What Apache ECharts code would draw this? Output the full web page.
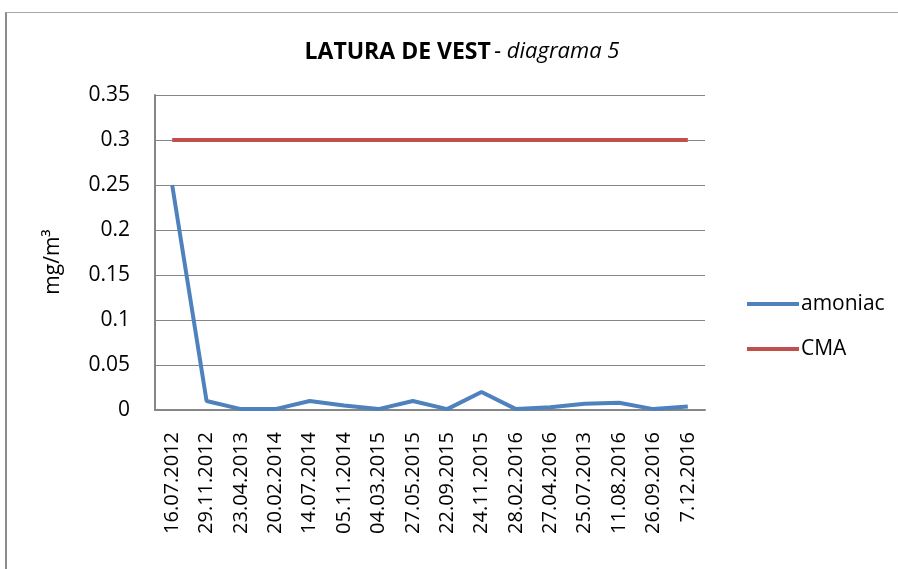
<!DOCTYPE html>
<html><head><meta charset="utf-8">
<script src="https://cdn.jsdelivr.net/npm/echarts@6/dist/echarts.min.js"></script>
<style>html,body{margin:0;padding:0;background:#fff}#c{width:898px;height:569px}</style>
</head><body><div id="c"></div>
<script>
const categories = ["16.07.2012","29.11.2012","23.04.2013","20.02.2014","14.07.2014","05.11.2014","04.03.2015","27.05.2015","22.09.2015","24.11.2015","28.02.2016","27.04.2016","25.07.2013","11.08.2016","26.09.2016","7.12.2016"];
const amoniac = [0.25,0.01,0.001,0.001,0.01,0.005,0.001,0.01,0.001,0.02,0.001,0.003,0.007,0.008,0.001,0.004];
const cma = [0.3,0.3,0.3,0.3,0.3,0.3,0.3,0.3,0.3,0.3,0.3,0.3,0.3,0.3,0.3,0.3];
const yTicks = [0,0.05,0.1,0.15,0.2,0.25,0.3,0.35];
const font = "'Open Sans','Liberation Sans',sans-serif";
const chart = echarts.init(document.getElementById('c'));
chart.setOption({
  animation:false,
  backgroundColor:'#fff',
  graphic:[
    {type:'line',shape:{x1:6,y1:12,x2:6,y2:569},style:{stroke:'#8c8c8c',lineWidth:2}},
    {type:'line',shape:{x1:6,y1:12.5,x2:898,y2:12.5},style:{stroke:'#a6a6a6',lineWidth:1}},
    {type:'text',x:462,y:52,style:{align:'center',verticalAlign:'middle',rich:{b:{fontFamily:font,fontWeight:'bold',fontSize:23,fill:'#000'},i:{fontFamily:font,fontStyle:'italic',fontSize:22,fill:'#000'}},text:'{b|LATURA DE VEST} {i|- diagrama 5}'}},
    {type:'text',x:53,y:262,rotation:Math.PI/2,style:{align:'center',verticalAlign:'middle',fontFamily:font,fontSize:21,fill:'#000',text:'mg/m³'}}
  ],
  grid:{left:155,right:193,top:95,bottom:159},
  legend:{orient:'vertical',left:742,top:287,itemWidth:52,itemHeight:4,itemGap:21,icon:'rect',
    textStyle:{fontFamily:font,fontSize:21,lineHeight:24,color:'#000',padding:[0,0,0,-3]},
    data:['amoniac','CMA']},
  xAxis:{type:'category',data:categories,boundaryGap:true,
    axisLine:{lineStyle:{color:'#868686',width:2}},axisTick:{show:false},
    axisLabel:{rotate:90,interval:0,fontFamily:font,fontSize:20,color:'#000',margin:22}},
  yAxis:{type:'value',min:0,max:0.35,interval:0.05,
    axisLine:{show:true,lineStyle:{color:'#868686',width:2}},axisTick:{show:false},
    splitLine:{lineStyle:{color:'#868686',width:1}},
    axisLabel:{fontFamily:font,fontSize:21,color:'#000',margin:25,formatter:v=>String(+v.toFixed(2))}},
  series:[
    {name:'amoniac',type:'line',data:amoniac,symbol:'none',lineStyle:{color:'#4f81bd',width:4},itemStyle:{color:'#4f81bd'}},
    {name:'CMA',type:'line',data:cma,symbol:'none',lineStyle:{color:'#c0504d',width:4},itemStyle:{color:'#c0504d'}}
  ]
});
</script></body></html>
